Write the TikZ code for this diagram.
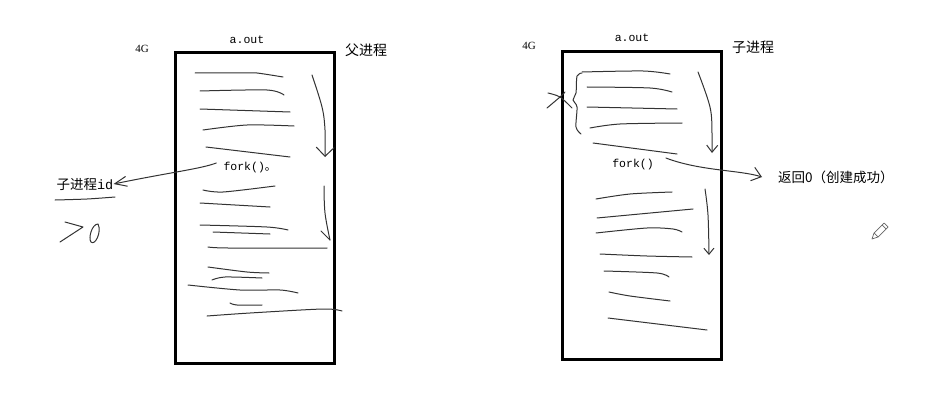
\documentclass[tikz,border=0pt]{standalone}
\usepackage{fontspec}
\setmainfont{Liberation Serif}
\setmonofont{Liberation Mono}
\newfontfamily\cjk{Noto Sans CJK SC}
\usetikzlibrary{arrows.meta}
\begin{document}
\begin{tikzpicture}[x=1pt,y=-1pt,
  stroke/.style={line width=1pt,draw=black!80,line cap=round,line join=round},
  frame/.style={draw=black,line width=3pt,inner sep=0pt},
  cn/.style={font=\cjk\fontsize{14}{14}\selectfont,inner sep=0pt},
  code/.style={font=\ttfamily\fontsize{11.5}{12}\selectfont,inner sep=0pt},
  fname/.style={font=\ttfamily\fontsize{11.5}{12}\selectfont,inner sep=0pt},
  gig/.style={font=\fontsize{11}{11}\selectfont,inner sep=0pt},
  barb/.style={-{Straight Barb[length=#1]}},
]
\useasboundingbox[fill=white] (0,0) rectangle (935,412);

% ---------- left: parent ----------
\node[frame,minimum width=159pt,minimum height=310pt] (box1) at (254.5,208) {};
\node[gig] (g1) at (142,49) {4G};
\node[fname] (aout1) at (247,40) {a.out};
\node[cn] (parent) at (366,50) {父进程};
\node[code] (fork1) at (250,168) {fork()\cjk 。};
\node[cn,font=\cjk\fontsize{13.5}{14}\selectfont] (pid) at (85,184) {子进程\ttfamily id};

\draw[stroke] plot[smooth,tension=.5] coordinates {(195,73) (245,73) (257,73) (283,77)};
\draw[stroke] plot[smooth,tension=.5] coordinates {(200,91) (267,90) (284,95)};
\draw[stroke] (200,109) -- (290,112);
\draw[stroke] plot[smooth,tension=.5] coordinates {(203,130) (247,125) (294,126)};
\draw[stroke] (206,147) -- (290,157);
\draw[stroke] plot[smooth,tension=.5] coordinates {(203,190) (223,192) (275,186)};
\draw[stroke] (200,203) -- (270,207);
\draw[stroke] plot[smooth,tension=.5] coordinates {(200,225) (267,227) (288,230)};
\draw[stroke] (213,232) -- (270,234);
\draw[stroke] plot[smooth,tension=.5] coordinates {(208,247) (228,248) (327,248)};
\draw[stroke] plot[smooth,tension=.5] coordinates {(208,267) (247,272) (269,273)};
\draw[stroke] plot[smooth,tension=.5] coordinates {(212,280) (225,277) (262,278)};
\draw[stroke] plot[smooth,tension=.5] coordinates {(188,285) (240,290) (280,290) (298,293)};
\draw[stroke] plot[smooth,tension=.5] coordinates {(230,303) (237,305) (262,305)};
\draw[stroke] plot[smooth,tension=.5] coordinates {(207,316) (250,313) (323,309) (342,311)};

% flow arrows (parent)
\draw[stroke,barb=9pt] plot[smooth,tension=.6] coordinates {(312,75) (322,107) (325,130) (325,157)};
\draw[stroke] plot[smooth,tension=.6] coordinates {(324,186) (325,213) (330,240)};
\draw[stroke] (321,231) -- (330,240);

% fork -> child pid
\draw[stroke,-{Straight Barb[length=12pt,width=10pt]}]
  ([xshift=-7pt,yshift=5pt]fork1.west) .. controls (200,169) and (172,172) .. (pid.east);
% underline and >0
\draw[stroke] plot[smooth,tension=.5] coordinates {(55,200) (87,199) (115,197)};
\draw[stroke] (65,222) -- (83,227) -- (60,242);
\draw[stroke] (98,224) .. controls (92,224) and (88,238) .. (91,242)
  .. controls (95,246) and (102,232) .. (98,224);

% ---------- right: child ----------
\node[frame,minimum width=159pt,minimum height=307pt] (box2) at (641.5,205.5) {};
\node[gig] (g2) at (529,46) {4G};
\node[fname] (aout2) at (632,38) {a.out};
\node[cn] (child) at (753,47) {子进程};
\node[code] (fork2) at (633,165) {fork()};
\node[cn,font=\cjk\fontsize{13.5}{14}\selectfont,anchor=west] (ret) at (778,177) {返回0（创建成功）};

\draw[stroke] plot[smooth,tension=.5] coordinates {(582,72) (643,71) (670,74)};
\draw[stroke] plot[smooth,tension=.5] coordinates {(587,87) (650,88) (672,92)};
\draw[stroke] (587,107) -- (677,109);
\draw[stroke] plot[smooth,tension=.5] coordinates {(590,128) (620,124) (682,123)};
\draw[stroke] (593,143) -- (677,154);
% brace and cross
\draw[stroke] plot[smooth,tension=.5] coordinates {(582,73) (577,76) (576,93) (573,100) (577,107) (576,127) (581,134)};
\draw[stroke] plot[smooth,tension=.5] coordinates {(547,108) (560,97) (565,92)};
\draw[stroke] plot[smooth,tension=.5] coordinates {(548,93) (560,97) (572,108)};
% flow arrows (child)
\draw[stroke,-{Straight Barb[length=7pt,width=11pt]}] plot[smooth,tension=.6] coordinates {(698,72) (710,107) (712,133) (712,153)};
\draw[stroke] plot[smooth,tension=.5] coordinates {(596,199) (630,194) (672,192)};
\draw[stroke] (597,218) -- (693,209);
\draw[stroke] plot[smooth,tension=.5] coordinates {(596,233) (647,228) (673,229) (682,232)};
\draw[stroke,-{Straight Barb[length=6pt,width=10pt]}] plot[smooth,tension=.6] coordinates {(705,189) (708,215) (709,255)};
\draw[stroke] plot[smooth,tension=.5] coordinates {(600,254) (647,256) (692,257)};
\draw[stroke] plot[smooth,tension=.5] coordinates {(604,271) (657,273) (669,277)};
\draw[stroke] plot[smooth,tension=.5] coordinates {(609,292) (630,296) (670,301)};
\draw[stroke] (608,318) -- (707,330);
% fork -> return 0
\draw[stroke,-{Straight Barb[length=9pt,width=14pt]}]
  ([xshift=12pt,yshift=7pt]fork2.east) .. controls (700,171) and (740,170) .. ([xshift=-16pt]ret.west);

% pencil cursor
\draw[line width=.7pt,draw=black!60,line join=round,fill=white]
  (872,239) -- (874,233) -- (884,223) -- (888,227) -- (878,237) -- cycle;
\draw[line width=.7pt,draw=black!60] (874,233) -- (878,237) (882,225) -- (886,229);
\end{tikzpicture}
\end{document}
